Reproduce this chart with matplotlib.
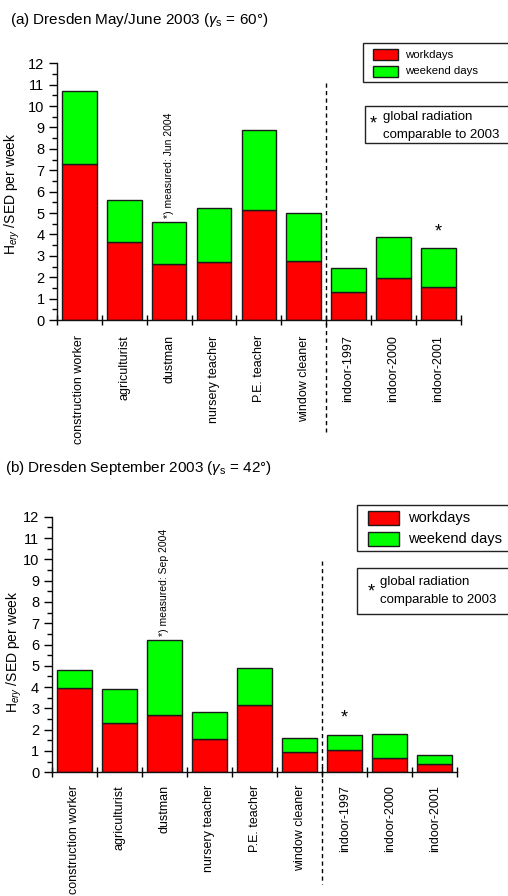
import matplotlib
matplotlib.use("Agg")
import matplotlib.pyplot as plt
from matplotlib.patches import Rectangle
from matplotlib.ticker import MultipleLocator, FixedLocator
import numpy as np

plt.rcParams['font.family'] = ['Liberation Sans', 'DejaVu Sans']
plt.rcParams['mathtext.fontset'] = 'custom'
plt.rcParams['mathtext.rm'] = 'Liberation Sans'
plt.rcParams['mathtext.it'] = 'Liberation Sans:italic'

categories = ['construction worker', 'agriculturist', 'dustman', 'nursery teacher',
              'P.E. teacher', 'window cleaner', 'indoor-1997', 'indoor-2000', 'indoor-2001']
n_outdoor = 6

# panel (a): May/June 2003
workdays_a = [7.28, 3.66, 2.60, 2.71, 5.14, 2.77, 1.31, 1.95, 1.54]
total_a = [10.70, 5.59, 4.59, 5.25, 8.89, 5.00, 2.44, 3.88, 3.35]
star_a = 'indoor-2001'
note_a = '*) measured: Jun 2004'

# panel (b): September 2003
workdays_b = [3.97, 2.31, 2.68, 1.55, 3.16, 0.95, 1.06, 0.66, 0.38]
total_b = [4.79, 3.90, 6.21, 2.82, 4.90, 1.60, 1.75, 1.81, 0.83]
star_b = 'indoor-1997'
note_b = '*) measured: Sep 2004'

W, H = 508, 896
fig = plt.figure(figsize=(W / 100, H / 100), dpi=100)

RED = '#ff0000'
GREEN = '#00ff00'
EDGE = '#1a1a1a'


def px_rect(x0, y0, x1, y1):
    """Figure-fraction rectangle from pixel corners (top-left origin)."""
    return [x0 / W, 1 - y1 / H, (x1 - x0) / W, (y1 - y0) / H]


def draw_panel(rect, work, total, star_cat, note, ylab_xy, dash_top, label_pad):
    ax = fig.add_axes(rect)
    x = np.arange(len(categories))
    work = np.array(work)
    weekend = np.array(total) - work
    ax.bar(x, work, width=0.77, color=RED, edgecolor=EDGE, linewidth=1.0, zorder=2)
    ax.bar(x, weekend, bottom=work, width=0.77, color=GREEN, edgecolor=EDGE,
           linewidth=1.0, zorder=2)
    ax.set_xlim(-0.5, len(categories) - 0.5)
    ax.set_ylim(0, 12)
    for s in ('top', 'right'):
        ax.spines[s].set_visible(False)
    for s in ('left', 'bottom'):
        ax.spines[s].set_linewidth(1.0)
        ax.spines[s].set_color('#111111')

    ax.yaxis.set_major_locator(MultipleLocator(1))
    ax.yaxis.set_minor_locator(MultipleLocator(0.5))
    ax.tick_params(axis='y', which='major', direction='out', length=6, width=1,
                   labelsize=10.5, pad=3)
    ax.tick_params(axis='y', which='minor', direction='out', length=3.5, width=1)

    ax.xaxis.set_major_locator(FixedLocator(x))
    ax.set_xticklabels(categories, rotation=90, fontsize=9, va='top')
    ax.xaxis.set_minor_locator(FixedLocator(np.arange(len(categories) + 1) - 0.5))
    ax.tick_params(axis='x', which='major', length=0, pad=label_pad)
    ax.tick_params(axis='x', which='minor', direction='inout', length=7, width=1)

    ax.set_ylabel(r'H$_{\mathit{ery}}$ /SED per week', fontsize=10)
    ax.yaxis.set_label_coords(*ylab_xy)

    # separator between outdoor occupations and indoor workers
    sep = n_outdoor - 0.5
    ax.plot([sep, sep], [dash_top, -5.25], color='black', lw=1.0,
            linestyle=(0, (3.0, 2.4)), clip_on=False, zorder=3)

    i_star = categories.index(star_cat)
    ax.annotate('*', (x[i_star], total[i_star]), xytext=(0, 12),
                textcoords='offset points', ha='center', va='center', fontsize=13)

    i_note = categories.index('dustman')
    ax.annotate(note, (x[i_note], total[i_note]), xytext=(0, 3),
                textcoords='offset points', ha='center', va='bottom',
                rotation=90, fontsize=7.5)
    return ax


def draw_legends(box1, patch_x, red_y, green_y, text_x, fs, box2, star_xy, lines_xy, fs2):
    fig.add_artist(Rectangle(box1[:2], box1[2], box1[3], transform=fig.transFigure,
                             facecolor='white', edgecolor='#222222', lw=1.0))
    for (y0, y1), col, lab in ((red_y, RED, 'workdays'), (green_y, GREEN, 'weekend days')):
        r = px_rect(patch_x[0], y0, patch_x[1], y1)
        fig.add_artist(Rectangle(r[:2], r[2], r[3], transform=fig.transFigure,
                                 facecolor=col, edgecolor=EDGE, lw=1.0))
        fig.text(text_x / W, 1 - (y0 + y1) / 2 / H, lab, fontsize=fs, va='center',
                 ha='left')
    fig.add_artist(Rectangle(box2[:2], box2[2], box2[3], transform=fig.transFigure,
                             facecolor='white', edgecolor='#222222', lw=1.0))
    fig.text(star_xy[0] / W, 1 - star_xy[1] / H, '*', fontsize=13, ha='center',
             va='center')
    fig.text(lines_xy[0] / W, 1 - lines_xy[1] / H, 'global radiation',
             fontsize=fs2, va='center')
    fig.text(lines_xy[0] / W, 1 - lines_xy[2] / H, 'comparable to 2003',
             fontsize=fs2, va='center')


# panel (a)
fig.text(10 / W, 1 - 20 / H, r'(a) Dresden May/June 2003 ($\gamma_\mathrm{s}$ = 60°)',
         fontsize=11, va='center')
draw_panel(px_rect(57, 63.3, 460.7, 320), workdays_a, total_a, star_a, note_a,
           (-0.086, 0.49), 11.1, 11)
draw_legends(px_rect(363, 43.5, 520, 82), (373, 398), (49.5, 60), (66, 76.7), 405, 8.2,
             px_rect(365, 106, 520, 143), (373, 124), (383, 117, 135), 9.5)

# panel (b)
fig.text(5 / W, 1 - 468 / H, r'(b) Dresden September 2003 ($\gamma_\mathrm{s}$ = 42°)',
         fontsize=11, va='center')
draw_panel(px_rect(51.7, 516.7, 457.3, 772.3), workdays_b, total_b, star_b, note_b,
           (-0.068, 0.47), 9.9, 9)
draw_legends(px_rect(357, 505, 520, 551), (368, 399), (510.7, 525.3), (531.7, 546), 408,
             10.5, px_rect(357, 568, 520, 614), (371.5, 592), (380, 582, 599.5), 9.5)

fig.savefig('out.png', dpi=100)
